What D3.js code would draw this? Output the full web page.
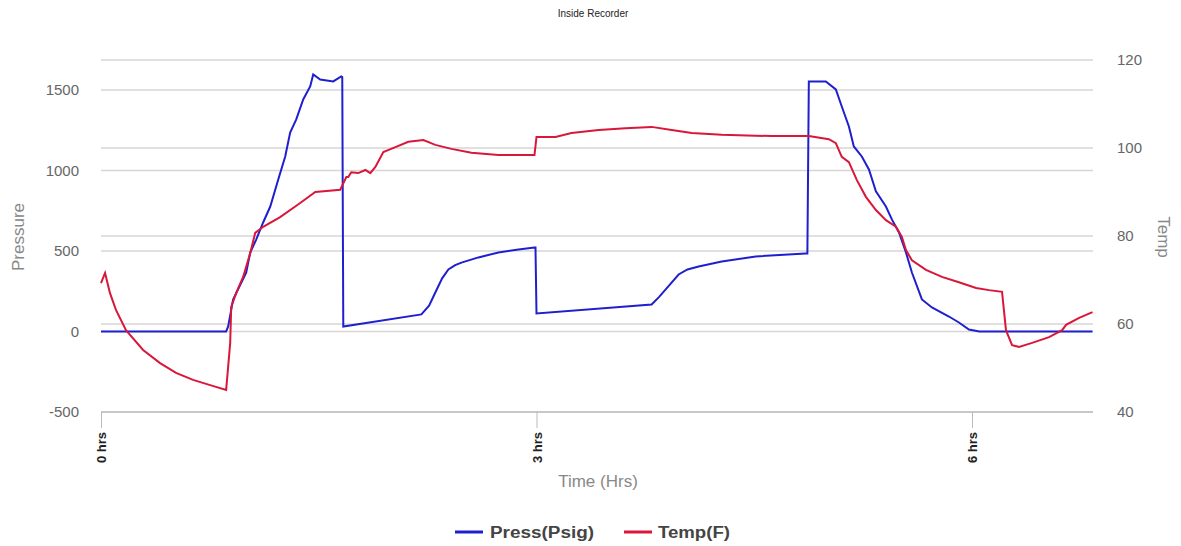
<!DOCTYPE html>
<html><head><meta charset="utf-8">
<script src="https://cdn.jsdelivr.net/npm/d3@7"></script>
<style>body{margin:0;background:#fff;font-family:Arial,"Liberation Sans",sans-serif}</style>
</head><body><svg id="c" width="1181" height="546"></svg>
<script>
const title = "Inside Recorder";
const xTickValues = [0, 3, 6];
const xTickLabels = ["0 hrs", "3 hrs", "6 hrs"];
const pressTicks = [-500, 0, 500, 1000, 1500];
const tempTicks = [40, 60, 80, 100, 120];
const seriesNames = ["Press(Psig)", "Temp(F)"];

const pressHours = [0,0.862,0.876,0.910,1.000,1.028,1.069,1.117,1.166,1.221,1.269,1.303,1.345,1.393,1.441,1.462,1.510,1.600,1.655,1.662,1.669,2.207,2.260,2.303,2.350,2.393,2.440,2.483,2.600,2.738,2.876,2.986,2.993,3.000,3.793,3.845,3.890,3.979,4.040,4.117,4.276,4.510,4.855,4.866,4.876,4.993,5.062,5.103,5.152,5.186,5.241,5.290,5.338,5.407,5.448,5.497,5.545,5.586,5.655,5.724,5.841,5.910,5.979,6.050,6.830];
const pressValues = [0,0,31,199,366,490,571,677,776,944,1087,1236,1317,1441,1522,1596,1565,1553,1584,1580,31,106,160,242,330,385,412,428,460,491,509,522,522,112,168,215,261,354,385,404,435,466,484,484,1553,1553,1503,1397,1273,1149,1087,1006,870,776,696,615,491,366,199,149,93,56,12,0,0];

const tempHours = [0,0.028,0.062,0.103,0.172,0.290,0.407,0.517,0.634,0.752,0.862,0.890,0.897,0.931,0.979,1.028,1.062,1.117,1.234,1.372,1.476,1.648,1.690,1.703,1.724,1.772,1.821,1.855,1.890,1.945,2.028,2.117,2.221,2.303,2.414,2.552,2.738,2.986,3.000,3.131,3.241,3.428,3.614,3.793,3.931,4.069,4.276,4.621,4.876,5.014,5.062,5.103,5.152,5.207,5.269,5.338,5.407,5.476,5.517,5.545,5.586,5.683,5.793,5.910,6.028,6.117,6.207,6.234,6.276,6.324,6.414,6.531,6.621,6.648,6.738,6.830];
const tempValues = [69.3,71.6,67.0,63.2,58.6,54.1,51.1,48.9,47.3,46.1,45.0,55.7,63.9,67.0,70.7,76.1,80.7,82.1,84.3,87.5,90.0,90.5,93.4,93.4,94.5,94.3,95.0,94.3,95.7,99.1,100.2,101.4,101.8,100.7,99.8,98.9,98.4,98.4,102.5,102.5,103.4,104.1,104.5,104.8,104.1,103.4,103.0,102.7,102.7,102.0,101.1,98.0,96.8,92.7,88.9,85.9,83.6,82.1,79.8,76.8,74.5,72.3,70.7,69.5,68.2,67.7,67.3,58.6,55.2,54.8,55.7,57.0,58.6,59.8,61.4,62.7];

const blue = "#1f1fcf", red = "#d8173a";
const svg = d3.select("#c");
const L = 101, R = 1093, T = 60, B = 412;
const x = d3.scaleLinear().domain([0, 6]).range([L, 972]);
const yP = d3.scaleLinear().domain([-500, 1686]).range([B, T]);
const yT = d3.scaleLinear().domain([40, 120]).range([B, T]);

// gridlines
const g = svg.append("g");
pressTicks.filter(v => v > -500).forEach(v => g.append("line").attr("x1", L).attr("x2", R).attr("y1", yP(v)).attr("y2", yP(v)).attr("stroke", "#d6d6d6").attr("stroke-width", 1.5));
tempTicks.filter(v => v > 40).forEach(v => g.append("line").attr("x1", L).attr("x2", R).attr("y1", yT(v)).attr("y2", yT(v)).attr("stroke", "#d6d6d6").attr("stroke-width", 1.5));

// axes
const xAxis = d3.axisBottom(x).tickValues(xTickValues).tickFormat((d, i) => xTickLabels[i]).tickSize(16).tickSizeOuter(0);
const xa = svg.append("g").attr("transform", `translate(0,${B})`).call(xAxis);
xa.select(".domain").attr("d", `M${L},0H${R}`).attr("stroke", "#b5b5b5").attr("stroke-width", 1.5);
xa.selectAll(".tick line").attr("stroke", "#bbb");
xa.selectAll(".tick text").attr("transform", "rotate(-90)").attr("text-anchor", "end").attr("x", -20).attr("y", 0).attr("dy", "0.35em")
  .attr("font-size", 13).attr("font-weight", "bold").attr("fill", "#222").attr("font-family", "Arial");

const plain = d => String(d);
const ya = svg.append("g").attr("transform", `translate(${L},0)`).call(d3.axisLeft(yP).tickValues(pressTicks).tickFormat(plain).tickSize(0).tickPadding(22));
ya.select(".domain").remove();
ya.selectAll("text").attr("font-size", 15).attr("fill", "#666").attr("font-family", "Arial");

const yb = svg.append("g").attr("transform", `translate(${R},0)`).call(d3.axisRight(yT).tickValues(tempTicks).tickFormat(plain).tickSize(0).tickPadding(24));
yb.select(".domain").remove();
yb.selectAll("text").attr("font-size", 15).attr("fill", "#666").attr("font-family", "Arial");

// lines
const pData = pressHours.map((h, i) => [h, pressValues[i]]);
const tData = tempHours.map((h, i) => [h, tempValues[i]]);
svg.append("path").datum(pData).attr("fill", "none").attr("stroke", blue).attr("stroke-width", 2)
  .attr("d", d3.line().x(d => x(d[0])).y(d => yP(d[1])));
svg.append("path").datum(tData).attr("fill", "none").attr("stroke", red).attr("stroke-width", 2)
  .attr("d", d3.line().x(d => x(d[0])).y(d => yT(d[1])));

// titles
svg.append("text").attr("x", 593).attr("y", 17).attr("text-anchor", "middle").attr("font-size", 10).attr("fill", "#222").text(title);
svg.append("text").attr("transform", "translate(24,237) rotate(-90)").attr("text-anchor", "middle").attr("font-size", 17).attr("fill", "#888").text("Pressure");
svg.append("text").attr("transform", "translate(1158,237) rotate(90)").attr("text-anchor", "middle").attr("font-size", 17).attr("fill", "#888").text("Temp");
svg.append("text").attr("x", 598).attr("y", 487).attr("text-anchor", "middle").attr("font-size", 17).attr("fill", "#888").text("Time (Hrs)");

// legend
const leg = [{name: seriesNames[0], c: blue, x: 455, tx: 490, w: 104}, {name: seriesNames[1], c: red, x: 624, tx: 658, w: 72}];
leg.forEach(l => {
  svg.append("line").attr("x1", l.x).attr("x2", l.x + 28).attr("y1", 532).attr("y2", 532).attr("stroke", l.c).attr("stroke-width", 3);
  svg.append("text").attr("x", l.tx).attr("y", 538).attr("font-size", 16).attr("font-weight", "bold").attr("fill", "#444")
    .attr("textLength", l.w).attr("lengthAdjust", "spacingAndGlyphs").text(l.name);
});
</script></body></html>
